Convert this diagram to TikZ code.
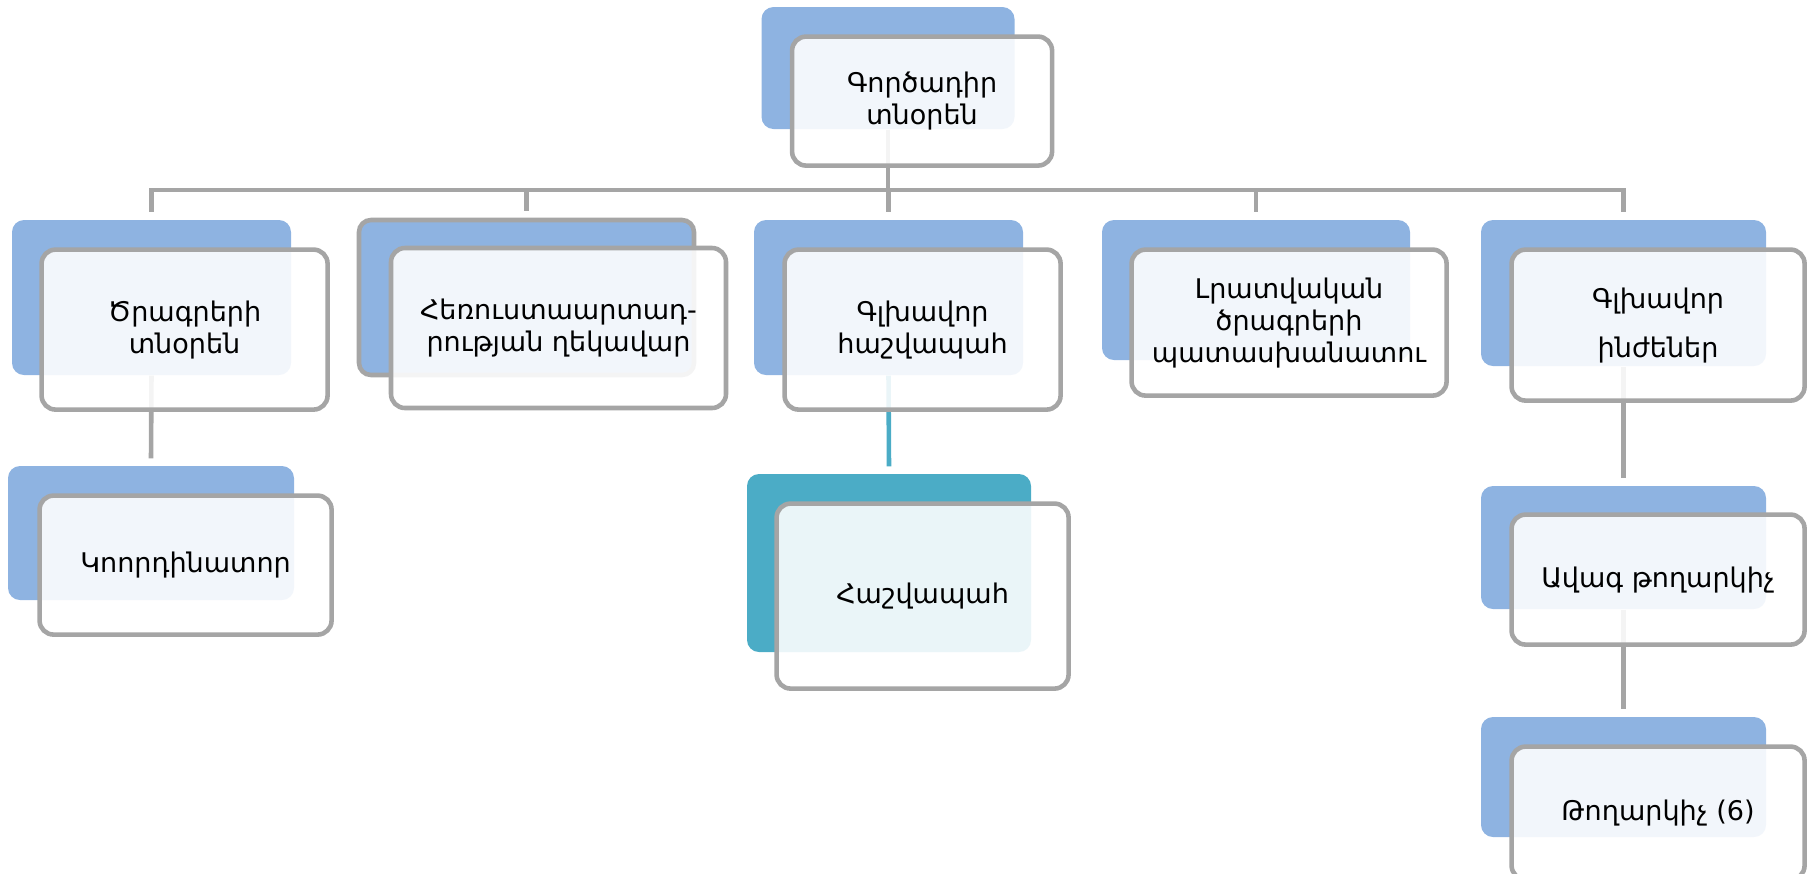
\documentclass[tikz,border=0pt]{standalone}
\usepackage{fontspec}
\setmainfont{DejaVu Sans}
\usetikzlibrary{positioning}
\definecolor{boxblue}{HTML}{8EB3E1}
\definecolor{boxteal}{HTML}{4BACC6}
\definecolor{rimgray}{HTML}{A5A5A5}
\tikzset{
    backbox/.style={fill=boxblue, rounded corners=1.2mm, inner sep=0pt},
    frontbox/.style={draw=rimgray, line width=1.3pt, fill=white, fill opacity=0.885,
        text opacity=1, rounded corners=1.4mm, align=center, inner sep=0pt,
        font=\fontsize{7.7}{9.1}\selectfont},
    link/.style={draw=rimgray, line width=1.3pt},
}
\begin{document}
\begin{tikzpicture}[x=0.1mm, y=-0.1mm]
    \useasboundingbox (0,0) rectangle (1811,873);

    % Back boxes
    \node[backbox, minimum width=25.3mm, minimum height=12.2mm] (ceoB) at (888,68) {};
    \node[backbox, minimum width=27.9mm, minimum height=15.5mm] (progB) at (151.5,297.5) {};
    \node[backbox, draw=rimgray, line width=1.3pt, minimum width=33.5mm, minimum height=15.5mm] (tvB) at (526.5,297.5) {};
    \node[backbox, minimum width=26.9mm, minimum height=15.5mm] (acctB) at (888.5,297.5) {};
    \node[backbox, minimum width=30.8mm, minimum height=14mm] (newsB) at (1256,290) {};
    \node[backbox, minimum width=28.5mm, minimum height=14.6mm] (engB) at (1623.5,293) {};
    \node[backbox, minimum width=28.6mm, minimum height=13.4mm] (coordB) at (151,533) {};
    \node[backbox, fill=boxteal, minimum width=28.4mm, minimum height=17.8mm] (acc2B) at (889,563) {};
    \node[backbox, minimum width=28.5mm, minimum height=12.3mm] (seniorB) at (1623.5,547.5) {};
    \node[backbox, minimum width=28.5mm, minimum height=12mm] (relB) at (1623.5,777) {};

    % Connectors
    \coordinate (bus) at (0,190);
    \foreach \kid in {progB,tvB,acctB,newsB,engB}
        \draw[link] (ceoB.south) -- (ceoB.south |- bus) -| ([yshift=0.7mm]\kid.north);
    \draw[link] (progB.south) -- ([yshift=0.7mm]coordB.north);
    \draw[link, draw=boxteal] (acctB.south) -- ([yshift=0.7mm]acc2B.north);
    \draw[link] (engB.south) -- ([yshift=0.7mm]seniorB.north);
    \draw[link] (seniorB.south) -- ([yshift=0.7mm]relB.north);

    % Front boxes
    \node[frontbox, minimum width=26mm, minimum height=12.9mm, below right=2.8mm and 2.9mm of ceoB.north west] (ceo) {Գործադիր\\տնօրեն};
    \node[frontbox, minimum width=28.6mm, minimum height=16mm, below right=2.8mm and 2.8mm of progB.north west] (prog) {Ծրագրերի\\տնօրեն};
    \node[frontbox, minimum width=33.5mm, minimum height=16mm, below right=2.8mm and 3.2mm of tvB.north west] (tv) {Հեռուստաարտադ-\\րության ղեկավար};
    \node[frontbox, minimum width=27.6mm, minimum height=16mm, below right=2.8mm and 2.9mm of acctB.north west] (acct) {Գլխավոր\\հաշվապահ};
    \node[frontbox, minimum width=31.5mm, minimum height=14.6mm, below right=2.8mm and 2.8mm of newsB.north west] (news) {Լրատվական\\ծրագրերի\\պատասխանատու};
    \node[frontbox, minimum width=29.3mm, minimum height=15.1mm, below right=2.8mm and 2.9mm of engB.north west] (eng) {Գլխավոր\\[1.7mm]ինժեներ};
    \node[frontbox, minimum width=29.2mm, minimum height=13.9mm, below right=2.8mm and 3mm of coordB.north west] (coord) {Կոորդինատոր};
    \node[frontbox, minimum width=29.2mm, minimum height=18.5mm, below right=2.8mm and 2.8mm of acc2B.north west] (acc2) {Հաշվապահ};
    \node[frontbox, minimum width=29.3mm, minimum height=13mm, below right=2.7mm and 2.9mm of seniorB.north west] (senior) {Ավագ թողարկիչ};
    \node[frontbox, minimum width=29.3mm, minimum height=13.3mm, below right=2.8mm and 2.9mm of relB.north west] (rel) {Թողարկիչ (6)};
\end{tikzpicture}
\end{document}
